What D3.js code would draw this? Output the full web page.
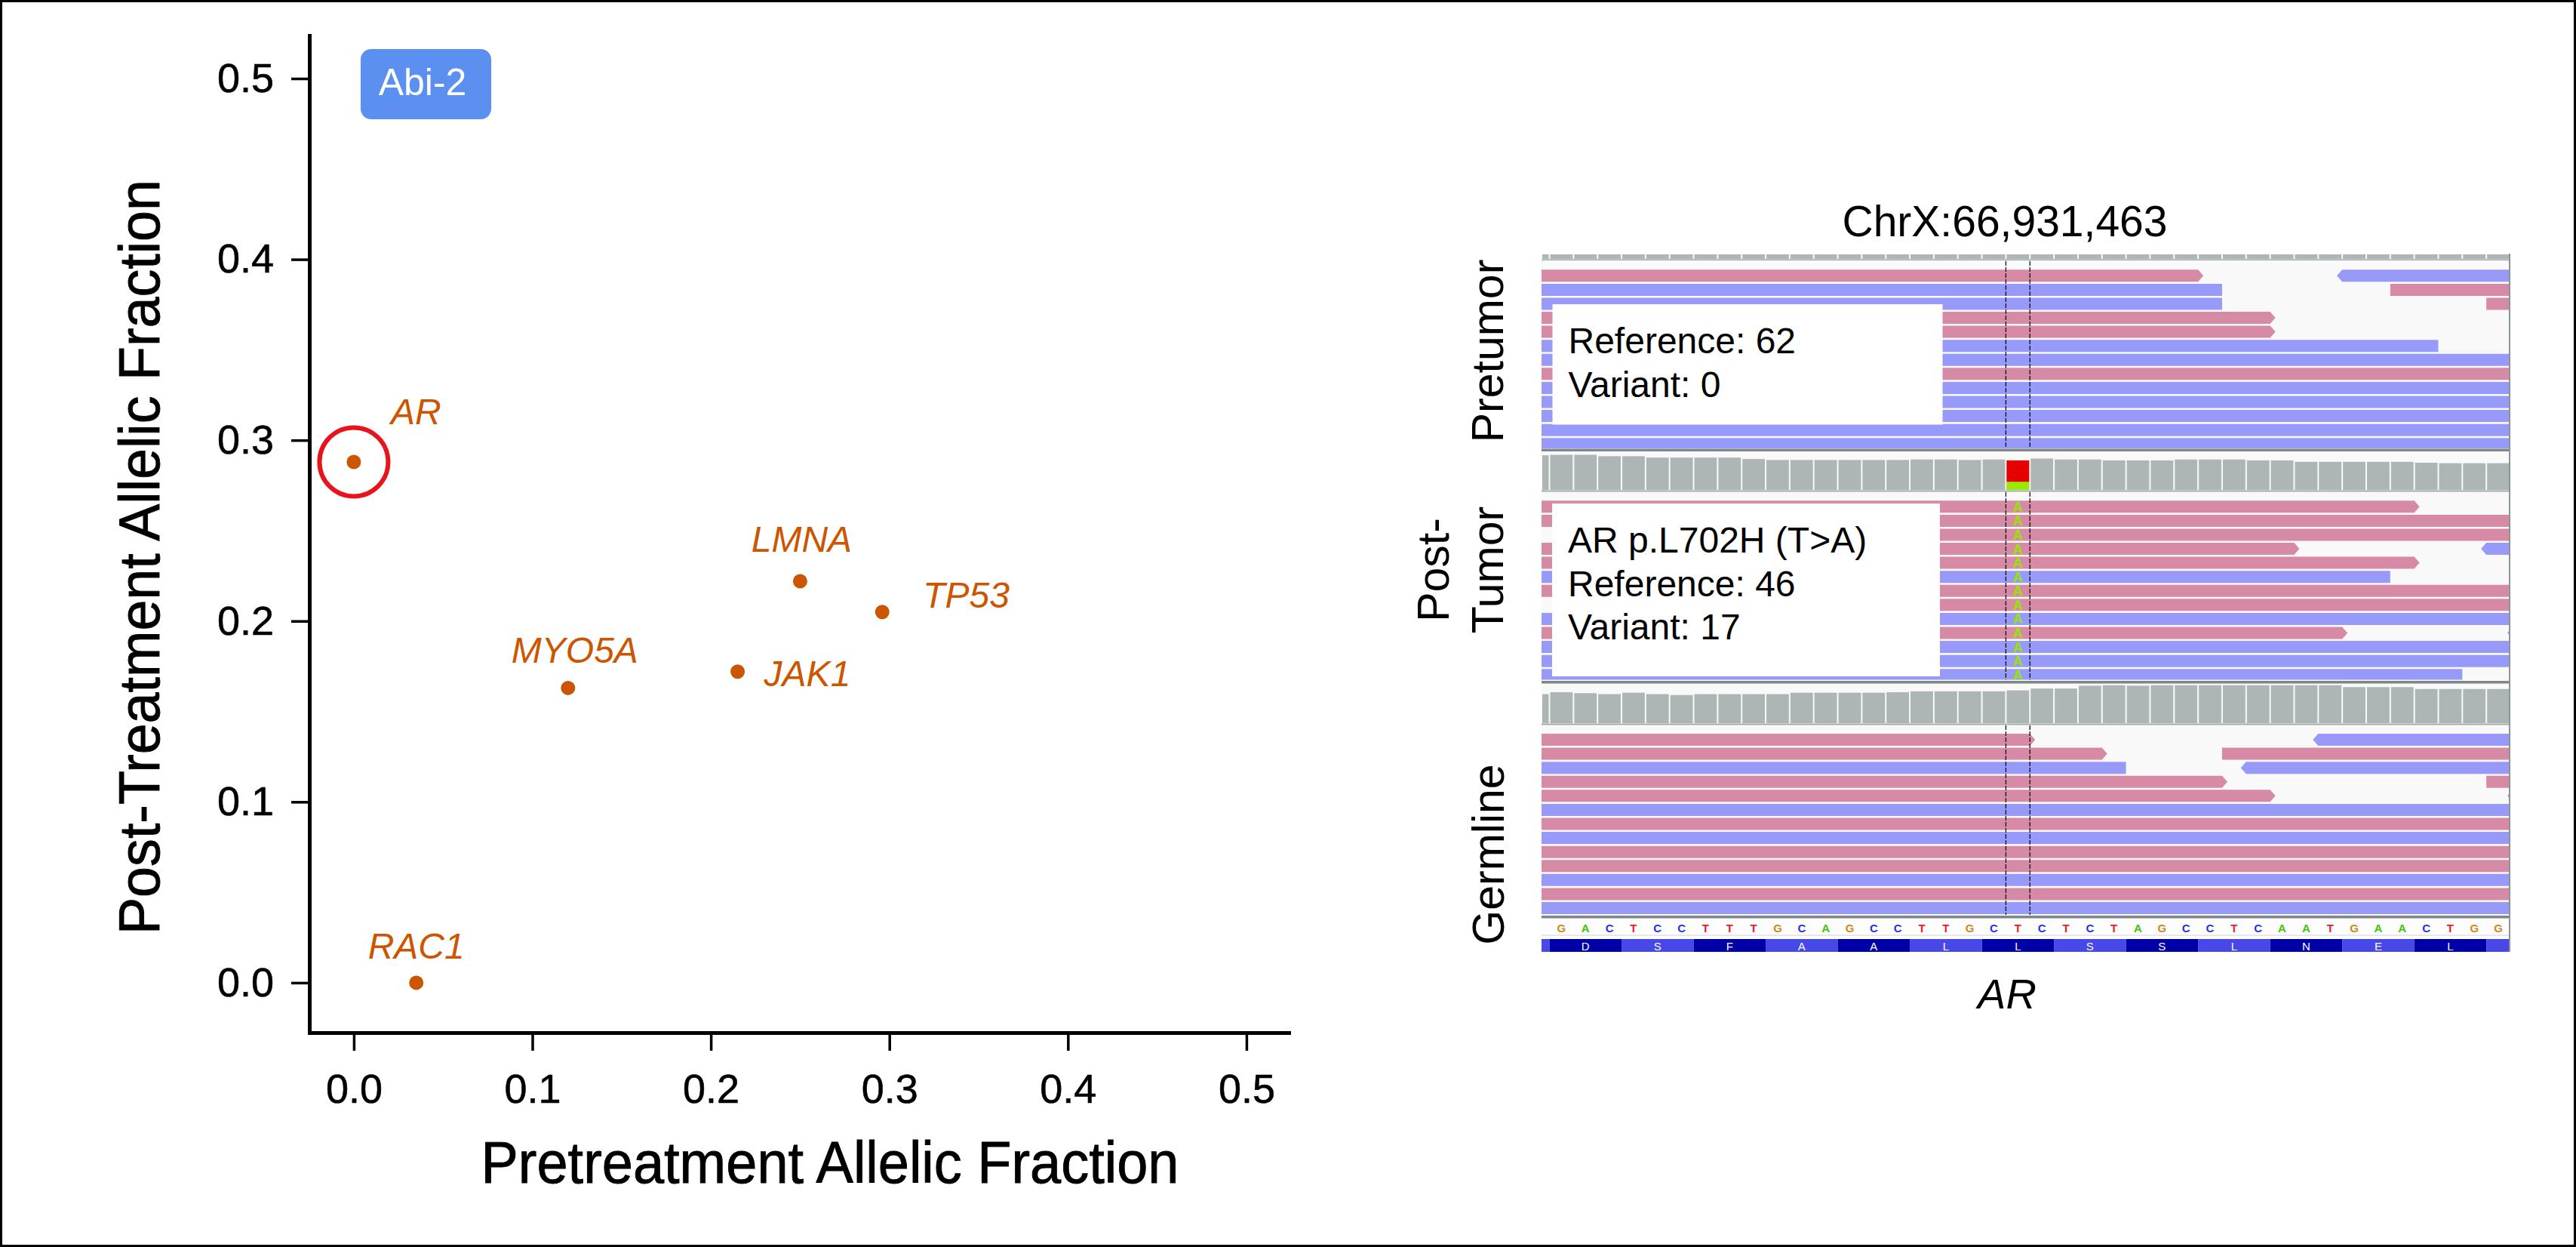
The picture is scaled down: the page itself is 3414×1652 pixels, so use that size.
<!DOCTYPE html>
<html><head><meta charset="utf-8">
<script src="https://cdn.jsdelivr.net/npm/d3@7"></script>
<style>
html,body{margin:0;padding:0;background:#fff;}
svg{display:block;}
text{font-family:"Liberation Sans",Arial,Helvetica,sans-serif;}
</style>
</head><body>
<svg id="chart" width="3414" height="1652"></svg>
<script>
// ================= DATA =================
// Left scatter panel
const genes  = ["AR", "RAC1", "MYO5A", "JAK1", "LMNA", "TP53"];
const preAF  = [0.000, 0.035, 0.120, 0.215, 0.250, 0.296];
const postAF = [0.288, 0.000, 0.163, 0.172, 0.222, 0.205];
const xTicks = [0.0, 0.1, 0.2, 0.3, 0.4, 0.5];
const yTicks = [0.0, 0.1, 0.2, 0.3, 0.4, 0.5];
const highlightedGene = "AR";
const cohortLabel = "Abi-2";
const xTitle = "Pretreatment Allelic Fraction";
const yTitle = "Post-Treatment Allelic Fraction";

// Right IGV panel
const locusTitle = "ChrX:66,931,463";
const geneName = "AR";
const refSequence = "GACTCCTTTGCAGCCTTGCTCTCTAGCCTCAATGAACTGG".split("");
const aminoAcids = ["D","S","F","A","A","L","L","S","S","L","N","E","L"];
const variantBase = 19;
const variantAllele = "A";
const postTumorRefCount = 46;
const postTumorAltCount = 17;
// coverage depth per base, first value is the partial column left of base 0
const postTumorCoverage = [74, 75,75,72,72,69,69,69,69,66,64, 64,64,64,64,64,65,65,64,65,63,
                           67,65,65,63,63,63,65,65,65,63, 63,60,60,60,60,60,58,57,57,57];
const germlineCoverage  = [62, 66,64,62,65,62,60,62,62,62,62, 65,65,65,65,66,68,68,68,68,70,
                           74,74,80,81,80,81,81,81,81,81, 81,81,81,77,77,77,73,73,73,73];
// reads: [row, start base, end base, strand]  f = forward, r = reverse
const pretumorReads = [
  [0,-1,27,"f"],[0,33,41,"r"],
  [1,-1,28,"r"],[1,35,41,"f"],
  [2,-1,28,"r"],[2,39,41,"f"],
  [3,-1,30,"f"],
  [4,-1,30,"f"],
  [5,-1,37,"r"],
  [6,-1,41,"r"],
  [7,-1,41,"f"],
  [8,-1,41,"r"],
  [9,-1,41,"r"],
  [10,-1,41,"r"],
  [11,-1,41,"r"],
  [12,-1,41,"r"]
];
const postTumorReads = [
  [0,-1,36,"f"],
  [1,-1,41,"f"],
  [2,2,41,"f"],
  [3,-1,31,"f"],[3,39,41,"r"],
  [4,-1,36,"f"],
  [5,-1,35,"r"],
  [6,-1,41,"f"],
  [7,3,41,"f"],
  [8,-1,41,"r"],
  [9,-1,33,"f"],[9,40.1,41,"r"],
  [10,-1,41,"r"],
  [11,-1,41,"r"],
  [12,-1,38,"r"]
];
const germlineReads = [
  [0,-1,20,"f"],[0,32,41,"r"],
  [1,-1,23,"f"],[1,28,41,"f"],
  [2,-1,24,"r"],[2,29,41,"r"],
  [3,-1,28,"f"],[3,39,41,"f"],
  [4,-1,30,"f"],[4,40.1,41,"r"],
  [5,-1,41,"r"],
  [6,-1,41,"f"],
  [7,-1,41,"r"],
  [8,-1,41,"f"],
  [9,-1,41,"f"],
  [10,-1,41,"r"],
  [11,-1,41,"f"],
  [12,-1,41,"r"]
];
const pretumorNote  = ["Reference: 62", "Variant: 0"];
const postTumorNote = ["AR p.L702H (T>A)", "Reference: 46", "Variant: 17"];
const trackLabels = [["Pretumor"], ["Post-", "Tumor"], ["Germline"]];

// ================= DRAWING =================
const svg = d3.select("#chart");
const FONT = '"Liberation Sans",Arial,Helvetica,sans-serif';
const ORANGE = "#cc5500";

// outer frame
svg.append("rect").attr("x",1.5).attr("y",1.5).attr("width",3411).attr("height",1649)
  .attr("fill","#fff").attr("stroke","#000").attr("stroke-width",3);

// ---------- scatter ----------
const x = d3.scaleLinear().domain([-0.0249, 0.5237]).range([410, 1708]);
const y = d3.scaleLinear().domain([-0.0276, 0.5238]).range([1368, 47]);

const gx = svg.append("g").attr("transform","translate(0,1368)")
  .call(d3.axisBottom(x).tickValues(xTicks).tickFormat(d3.format(".1f"))
        .tickSize(24).tickSizeOuter(0).tickPadding(31));
const gy = svg.append("g").attr("transform","translate(410,0)")
  .call(d3.axisLeft(y).tickValues(yTicks).tickFormat(d3.format(".1f"))
        .tickSize(24).tickSizeOuter(0).tickPadding(23));
[gx, gy].forEach(g => {
  g.select(".domain").attr("stroke","#000").attr("stroke-width",5).attr("stroke-linecap","square");
  g.selectAll(".tick line").attr("stroke","#000").attr("stroke-width",3.5);
  g.selectAll(".tick text").attr("font-family",FONT).attr("font-size",54).attr("fill","#000")
    .attr("stroke","#000").attr("stroke-width",0.6);
});

svg.append("text").attr("x",1100).attr("y",1567).attr("text-anchor","middle")
  .attr("font-size",78).attr("textLength",925).attr("lengthAdjust","spacingAndGlyphs")
  .attr("fill","#000").attr("stroke","#000").attr("stroke-width",0.9).text(xTitle);
svg.append("text").attr("transform","translate(211,738) rotate(-90)").attr("text-anchor","middle")
  .attr("font-size",76).attr("textLength",1000).attr("lengthAdjust","spacingAndGlyphs")
  .attr("fill","#000").attr("stroke","#000").attr("stroke-width",0.9).text(yTitle);

// cohort badge
svg.append("rect").attr("x",478).attr("y",65).attr("width",173).attr("height",93)
  .attr("rx",14).attr("fill","#5b8ff0");
svg.append("text").attr("x",560).attr("y",126).attr("text-anchor","middle")
  .attr("font-size",50).attr("fill","#fff").text(cohortLabel);

// points
const pts = genes.map((g,i)=>({gene:g, pre:preAF[i], post:postAF[i]}));
const labelLayout = {
  AR:{dx:49,dy:-50,anchor:"start"}, RAC1:{dx:0,dy:-32,anchor:"middle"},
  MYO5A:{dx:9,dy:-33,anchor:"middle"}, JAK1:{dx:35,dy:19,anchor:"start"},
  LMNA:{dx:2,dy:-39,anchor:"middle"}, TP53:{dx:54,dy:-6,anchor:"start"}
};
svg.append("g").selectAll("circle").data(pts).join("circle")
  .attr("cx",d=>x(d.pre)).attr("cy",d=>y(d.post)).attr("r",9.5).attr("fill",ORANGE);
svg.append("g").selectAll("text").data(pts).join("text")
  .attr("x",d=>x(d.pre)+labelLayout[d.gene].dx).attr("y",d=>y(d.post)+labelLayout[d.gene].dy)
  .attr("text-anchor",d=>labelLayout[d.gene].anchor)
  .attr("font-size",48).attr("font-style","italic").attr("fill",ORANGE).text(d=>d.gene);
const hl = pts.find(d=>d.gene===highlightedGene);
svg.append("circle").attr("cx",x(hl.pre)).attr("cy",y(hl.post)).attr("r",45.5)
  .attr("fill","none").attr("stroke","#e8141b").attr("stroke-width",6);

// ---------- IGV panel ----------
const PL = 2043, PR = 3327;
const xb = d3.scaleLinear().domain([-0.33, 40]).range([PL, PR]);
const step = xb(1) - xb(0);
const PINK = "#d78aa6", BLUE = "#989af9", COVG = "#adb6b5";
const readH = 16, pitch = 18.58;
const covScalePost = d3.scaleLinear().domain([0,80]).range([649, 649-49.6]);
const covScaleGerm = d3.scaleLinear().domain([0,80]).range([958, 958-49.6]);

const igv = svg.append("g");
const defs = svg.append("defs");

// panel background
igv.append("rect").attr("x",PL).attr("y",336).attr("width",PR-PL).attr("height",1217-336).attr("fill","#f9f9f9");

svg.append("text").attr("x",2657).attr("y",313).attr("text-anchor","middle")
  .attr("font-size",57).attr("fill","#000").text(locusTitle);

// pretumor coverage remnant strip
const basesAll = d3.range(-1, 40);
igv.append("g").selectAll("rect").data(basesAll).join("rect")
  .attr("x",b=>Math.max(PL, xb(b))+1).attr("y",337)
  .attr("width",b=>xb(b+1)-Math.max(PL,xb(b))-2).attr("height",6).attr("fill",COVG);
igv.append("rect").attr("x",PL).attr("y",343.5).attr("width",PR-PL).attr("height",1.5).attr("fill","#9aa3a3");

// coverage tracks
function drawCoverage(data, sc, variant) {
  const g = igv.append("g");
  const cells = data.map((v,i)=>({b:i-1, v}));
  g.selectAll("rect").data(cells).join("rect")
    .attr("x",d=>Math.max(PL, xb(d.b))+1)
    .attr("width",d=>xb(d.b+1)-Math.max(PL,xb(d.b))-2)
    .attr("y",d=>sc(d.v)).attr("height",d=>sc(0)-sc(d.v))
    .attr("fill",COVG);
  if (variant) {
    const x0 = xb(variantBase)+1, w = step-2;
    g.append("rect").attr("x",x0).attr("width",w)
      .attr("y",sc(postTumorRefCount+postTumorAltCount)).attr("height",sc(0)-sc(postTumorRefCount))
      .attr("fill","#e60000");
    g.append("rect").attr("x",x0).attr("width",w)
      .attr("y",sc(postTumorAltCount)).attr("height",sc(0)-sc(postTumorAltCount))
      .attr("fill","#99ea00");
  }
}
drawCoverage(postTumorCoverage, covScalePost, true);
drawCoverage(germlineCoverage, covScaleGerm, false);
igv.append("rect").attr("x",PL).attr("y",649.5).attr("width",PR-PL).attr("height",2).attr("fill","#a2abab");
igv.append("rect").attr("x",PL).attr("y",958.5).attr("width",PR-PL).attr("height",2).attr("fill","#a2abab");

// separators
[[594.5,3.5],[902,3.5],[1213,3.5]].forEach(([yy,h])=>{
  igv.append("rect").attr("x",PL).attr("y",yy).attr("width",PR-PL).attr("height",h).attr("fill","#7d8787");
});

// reads
function readPath(d, top) {
  const [row, s, e, strand] = d;
  const t = top + row*pitch, b = t + readH, m = t + readH/2;
  const x0 = xb(s), x1 = xb(e);
  if (strand === "f") return `M${x0},${t}H${x1}L${x1+7},${m}L${x1},${b}H${x0}Z`;
  return `M${x0-7},${m}L${x0},${t}H${x1}V${b}H${x0}Z`;
}
const panels = [
  {id:"pre",  reads:pretumorReads,  top:357.3, clipTop:346, clipBot:594},
  {id:"post", reads:postTumorReads, top:663.3, clipTop:652, clipBot:900.5},
  {id:"germ", reads:germlineReads,  top:972,   clipTop:961, clipBot:1212}
];
panels.forEach(p=>{
  defs.append("clipPath").attr("id","clip-"+p.id).append("rect")
    .attr("x",PL).attr("y",p.clipTop).attr("width",PR-PL-1).attr("height",p.clipBot-p.clipTop);
  const g = igv.append("g").attr("clip-path",`url(#clip-${p.id})`);
  g.selectAll("path").data(p.reads).join("path")
    .attr("d",d=>readPath(d,p.top)).attr("fill",d=>d[3]==="f"?PINK:BLUE);
  if (p.id==="post") {
    const rows = d3.range(13);
    g.selectAll("text.mm").data(rows).join("text").attr("class","mm")
      .attr("x",xb(variantBase+0.5)).attr("y",r=>p.top+r*pitch+readH/2+6.5)
      .attr("text-anchor","middle").attr("font-size",18).attr("font-weight","bold")
      .attr("fill","#96e600").text(variantAllele);
  }
  // dashed guide lines around the variant base
  [variantBase, variantBase+1].forEach(b=>{
    igv.append("line").attr("x1",xb(b)).attr("x2",xb(b)).attr("y1",p.clipTop).attr("y2",p.clipBot)
      .attr("stroke","#000").attr("stroke-width",1.2).attr("stroke-dasharray","6,2");
  });
});

// note boxes
function noteBox(x0,y0,w,h,lines,firstBaseline,lh){
  igv.append("rect").attr("x",x0).attr("y",y0).attr("width",w).attr("height",h).attr("fill","#fff");
  lines.forEach((s,i)=>igv.append("text").attr("x",x0+21).attr("y",firstBaseline+i*lh)
    .attr("font-size",48).attr("fill","#000").text(s));
}
noteBox(2057.5,403,517,159.5,pretumorNote,468,58);
noteBox(2057,667,514,229,postTumorNote,732,57.7);

// reference sequence row
igv.append("rect").attr("x",PL).attr("y",1217).attr("width",PR-PL).attr("height",22).attr("fill","#fdfdfd");
igv.append("rect").attr("x",PL).attr("y",1238.5).attr("width",PR-PL).attr("height",1.2).attr("fill","#d8dcdc");
const baseColor = {A:"#3cc800", C:"#1f33f0", G:"#d2861c", T:"#ee1a1e"};
igv.append("g").selectAll("text").data(refSequence.map((c,i)=>({c,i}))).join("text")
  .attr("x",d=>xb(d.i+0.5)).attr("y",1235).attr("text-anchor","middle")
  .attr("font-size",15).attr("font-weight","bold").attr("fill",d=>baseColor[d.c]).text(d=>d.c);

// amino-acid row
const codons = d3.range(-1, 14).map(k=>({k, aa: aminoAcids[k]}));
const aaG = igv.append("g");
aaG.selectAll("rect").data(codons).join("rect")
  .attr("x",d=>Math.max(PL, xb(d.k*3))).attr("y",1244)
  .attr("width",d=>Math.min(PR, xb(d.k*3+3)) - Math.max(PL, xb(d.k*3))).attr("height",17)
  .attr("fill",d=>(d.k%2===0)?"#0000a8":"#4848e8");
aaG.selectAll("text").data(codons.filter(d=>d.aa)).join("text")
  .attr("x",d=>xb(d.k*3+1.5)).attr("y",1258.5).attr("text-anchor","middle")
  .attr("font-size",15).attr("fill","#fff").text(d=>d.aa);

// right border of the IGV panel
igv.append("rect").attr("x",PR-2).attr("y",336).attr("width",2).attr("height",1261-336).attr("fill","#8c9494");

// track labels (rotated)
const labelPos = [{cx:[1992], cy:465}, {cx:[1920,1992], cy:755}, {cx:[1993], cy:1132}];
trackLabels.forEach((lines,i)=>{
  lines.forEach((s,j)=>{
    svg.append("text").attr("transform",`translate(${labelPos[i].cx[j]},${labelPos[i].cy}) rotate(-90)`)
      .attr("text-anchor","middle").attr("font-size",59).attr("fill","#000").text(s);
  });
});

// gene label under IGV
svg.append("text").attr("x",2660).attr("y",1336).attr("text-anchor","middle")
  .attr("font-size",56).attr("font-style","italic").attr("fill","#000").text(geneName);
</script>
</body></html>
